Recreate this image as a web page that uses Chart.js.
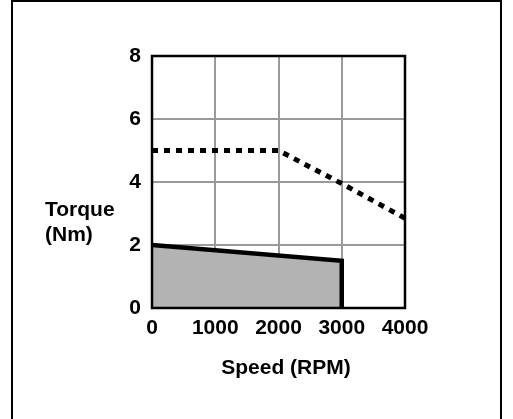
<!DOCTYPE html>
<html>
<head>
<meta charset="utf-8">
<script src="https://cdn.jsdelivr.net/npm/chart.js@4"></script>
<style>
  html, body { margin: 0; padding: 0; background: #ffffff; }
  #wrap { width: 513px; height: 419px; position: relative; }
</style>
</head>
<body>
<div id="wrap"><canvas id="c" width="513" height="419"></canvas></div>
<script>
// Data
const xTicks = [0, 1000, 2000, 3000, 4000];
const yTicks = [0, 2, 4, 6, 8];
const peakSpeed = [0, 2000, 3000, 4000];
const peakTorque = [5, 5, 3.95, 2.85];
const contSpeed = [0, 3000, 3000];
const contTorque = [2, 1.5, 0];
const xTitle = 'Speed (RPM)';
const yTitleLines = ['Torque', '(Nm)'];

const FONT = '"Liberation Sans", Arial, Helvetica, sans-serif';

const toPts = (xs, ys) => xs.map((x, i) => ({ x: x, y: ys[i] }));

const framePlugin = {
  id: 'frame',
  afterDraw(chart) {
    const { ctx, chartArea: a } = chart;
    ctx.save();
    // plot frame
    ctx.strokeStyle = '#000';
    ctx.lineWidth = 2.5;
    ctx.strokeRect(a.left, a.top, a.right - a.left, a.bottom - a.top);
    // outer border
    ctx.lineWidth = 2;
    ctx.strokeRect(12, 1, 489, 430);
    // axis titles
    ctx.fillStyle = '#000';
    ctx.font = 'bold 21px ' + FONT;
    ctx.textBaseline = 'middle';
    ctx.textAlign = 'left';
    ctx.fillText(yTitleLines[0], 45, 210);
    ctx.fillText(yTitleLines[1], 45, 235);
    ctx.textAlign = 'center';
    ctx.fillText(xTitle, 286, 368);
    ctx.restore();
  }
};

new Chart(document.getElementById('c'), {
  type: 'scatter',
  data: {
    datasets: [
      {
        label: 'Continuous',
        data: toPts(contSpeed, contTorque),
        showLine: true,
        borderColor: '#000',
        borderWidth: 4.5,
        backgroundColor: '#b3b3b3',
        fill: 'origin',
        pointRadius: 0,
        tension: 0,
        order: 2
      },
      {
        label: 'Peak',
        data: toPts(peakSpeed, peakTorque),
        showLine: true,
        borderColor: '#000',
        borderWidth: 5,
        borderDash: [6, 6],
        borderCapStyle: 'butt',
        fill: false,
        pointRadius: 0,
        tension: 0,
        order: 1
      }
    ]
  },
  plugins: [framePlugin],
  options: {
    responsive: false,
    animation: false,
    events: [],
    layout: { padding: { left: 0, right: 108, top: 56, bottom: 0 } },
    plugins: {
      legend: { display: false },
      tooltip: { enabled: false },
      filler: { propagate: false }
    },
    scales: {
      x: {
        type: 'linear',
        min: 0, max: 4000,
        afterBuildTicks: (s) => { s.ticks = xTicks.map(v => ({ value: v })); },
        afterFit: (s) => { s.height = 111; },
        grid: { color: '#9a9a9a', lineWidth: 2, drawTicks: false },
        border: { display: false },
        ticks: {
          color: '#000',
          padding: 8,
          maxRotation: 0,
          autoSkip: false,
          callback: (v) => String(v),
          font: { family: FONT, size: 21, weight: 'bold' }
        },
        title: { display: false }
      },
      y: {
        type: 'linear',
        min: 0, max: 8,
        afterBuildTicks: (s) => { s.ticks = yTicks.map(v => ({ value: v })); },
        afterFit: (s) => { s.width = 152; },
        grid: { color: '#9a9a9a', lineWidth: 2, drawTicks: false },
        border: { display: false },
        ticks: {
          color: '#000',
          padding: 11,
          callback: (v) => String(v),
          font: { family: FONT, size: 21, weight: 'bold' }
        }
      }
    }
  }
});
</script>
</body>
</html>
